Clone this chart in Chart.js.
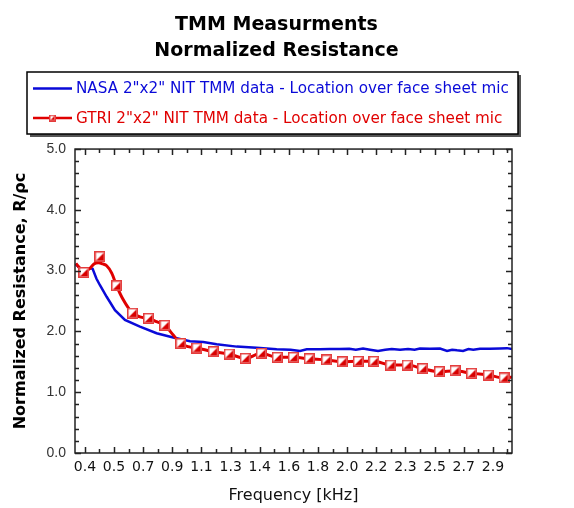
<!DOCTYPE html>
<html>
<head>
<meta charset="utf-8">
<script src="https://cdn.jsdelivr.net/npm/chart.js@4.4.1/dist/chart.umd.min.js"></script>
<style>
  html, body { margin: 0; padding: 0; background: #fff; }
</style>
</head>
<body>
<canvas id="grafico" width="574" height="508"></canvas>
<script>
// Eixo X: posições dos rótulos (kHz) e os textos exibidos
var xTickValues = [0.420, 0.598, 0.777, 0.955, 1.134, 1.313, 1.491, 1.670, 1.848, 2.027, 2.205, 2.384, 2.563, 2.741, 2.920];
var xTickLabels = ["0.4", "0.5", "0.7", "0.9", "1.1", "1.3", "1.4", "1.6", "1.8", "2.0", "2.2", "2.3", "2.5", "2.7", "2.9"];

// NASA - curva contínua
var nasaFreq = [0.362, 0.389, 0.414, 0.451, 0.467, 0.490, 0.512, 0.553, 0.604, 0.665, 0.757, 0.859, 0.961,
    1.064, 1.145, 1.227, 1.350, 1.472, 1.595, 1.680, 1.738, 1.779, 1.860, 1.920, 1.980, 2.040, 2.080,
    2.124, 2.167, 2.216, 2.260, 2.300, 2.351, 2.400, 2.440, 2.473, 2.534, 2.596, 2.639, 2.670, 2.700,
    2.737, 2.770, 2.800, 2.841, 2.900, 2.963, 3.006, 3.037];
var nasaVal = [3.11, 3.04, 3.00, 3.04, 3.03, 2.87, 2.76, 2.57, 2.35, 2.19, 2.08, 1.97, 1.90,
    1.84, 1.826, 1.79, 1.75, 1.73, 1.705, 1.70, 1.68, 1.705, 1.705, 1.71, 1.71, 1.715, 1.70,
    1.72, 1.70, 1.68, 1.70, 1.71, 1.70, 1.71, 1.70, 1.72, 1.715, 1.72, 1.68, 1.70, 1.69,
    1.68, 1.71, 1.70, 1.715, 1.715, 1.72, 1.725, 1.71];

// GTRI - linha
var gtriFreq = [0.365, 0.389, 0.414, 0.451, 0.475, 0.502, 0.530, 0.553, 0.584, 0.614, 0.655, 0.712, 0.757,
    0.810, 0.859, 0.910, 0.961, 1.008, 1.053, 1.106, 1.206, 1.304, 1.402, 1.501, 1.599, 1.697, 1.795,
    1.901, 1.997, 2.095, 2.191, 2.294, 2.395, 2.490, 2.592, 2.688, 2.790, 2.892, 2.988, 3.037];
var gtriVal = [3.12, 3.04, 2.99, 3.04, 3.11, 3.13, 3.11, 3.08, 2.96, 2.75, 2.52, 2.30, 2.24,
    2.215, 2.16, 2.10, 1.94, 1.80, 1.75, 1.727, 1.666, 1.628, 1.557, 1.64, 1.574, 1.574, 1.55,
    1.53, 1.50, 1.508, 1.508, 1.447, 1.447, 1.387, 1.337, 1.354, 1.31, 1.283, 1.234, 1.25];

// GTRI - marcadores
var gtriMarcaFreq = [0.414, 0.512, 0.614, 0.712, 0.810, 0.910, 1.008, 1.106, 1.206, 1.304, 1.402, 1.501,
    1.599, 1.697, 1.795, 1.901, 1.997, 2.095, 2.191, 2.294, 2.395, 2.490, 2.592, 2.688, 2.790, 2.892, 2.988];
var gtriMarcaVal = [2.97, 3.23, 2.75, 2.30, 2.215, 2.10, 1.80, 1.727, 1.666, 1.628, 1.557, 1.64,
    1.574, 1.574, 1.55, 1.53, 1.50, 1.508, 1.508, 1.447, 1.447, 1.387, 1.337, 1.354, 1.31, 1.283, 1.234];

var AZUL = "#0a0ad8";
var VERMELHO = "#e00000";

function juntarPontos(xs, ys) {
    return xs.map(function (x, i) { return { x: x, y: ys[i] }; });
}

// Quadrado com metade inferior direita preenchida
function criarMarcador(tam) {
    var c = document.createElement("canvas");
    c.width = tam;
    c.height = tam;
    var g = c.getContext("2d");
    g.fillStyle = "#fff";
    g.fillRect(0, 0, tam, tam);
    g.fillStyle = "#d80000";
    g.beginPath();
    g.moveTo(tam - 1.5, 1.5);
    g.lineTo(tam - 1.5, tam - 1.5);
    g.lineTo(1.5, tam - 1.5);
    g.closePath();
    g.fill();
    g.strokeStyle = "#e43c3c";
    g.lineWidth = 1.5;
    g.strokeRect(0.75, 0.75, tam - 1.5, tam - 1.5);
    return c;
}

var marcador = criarMarcador(11);
var marcadorPequeno = criarMarcador(7);

// Moldura e marcas internas dos eixos
var marcasEixos = {
    id: "marcasEixos",
    afterDatasetsDraw: function (chart) {
        var ctx = chart.ctx;
        var a = chart.chartArea;
        var x = chart.scales.x;
        var y = chart.scales.y;
        ctx.save();
        ctx.strokeStyle = "#222";
        ctx.lineWidth = 1.5;
        ctx.beginPath();
        x.ticks.forEach(function (t, i) {
            var px = Math.round(x.getPixelForValue(t.value)) + 0.5;
            var len = i % 2 === 0 ? 6 : 4;
            ctx.moveTo(px, a.bottom); ctx.lineTo(px, a.bottom - len);
            ctx.moveTo(px, a.top); ctx.lineTo(px, a.top + len);
        });
        for (var k = 0; k <= 25; k++) {
            var py = Math.round(y.getPixelForValue(k * 0.2)) + 0.5;
            var l = k % 5 === 0 ? 6 : 4;
            ctx.moveTo(a.left, py); ctx.lineTo(a.left + l, py);
            ctx.moveTo(a.right, py); ctx.lineTo(a.right - l, py);
        }
        ctx.stroke();
        ctx.strokeRect(a.left, a.top, a.right - a.left, a.bottom - a.top);
        ctx.restore();
    }
};

// Legenda em caixa com sombra
var legendaCaixa = {
    id: "legendaCaixa",
    afterDraw: function (chart) {
        var ctx = chart.ctx;
        var bx = 27, by = 72, bw = 491, bh = 62;
        ctx.save();
        ctx.fillStyle = "#555";
        ctx.fillRect(bx + 3, by + 3, bw, bh);
        ctx.fillStyle = "#fff";
        ctx.fillRect(bx, by, bw, bh);
        ctx.strokeStyle = "#000";
        ctx.lineWidth = 1.5;
        ctx.strokeRect(bx, by, bw, bh);
        ctx.font = "15.2px 'DejaVu Sans'";
        ctx.textBaseline = "middle";
        var itens = chart.data.datasets.filter(function (d) { return d.label; });
        itens.forEach(function (d, i) {
            var ly = by + 16.5 + i * 29.5;
            ctx.strokeStyle = d.borderColor;
            ctx.lineWidth = 2.5;
            ctx.beginPath();
            ctx.moveTo(33, ly);
            ctx.lineTo(72, ly);
            ctx.stroke();
            if (d.pointRadius > 0) {
                ctx.drawImage(marcadorPequeno, 49, ly - 3.5);
            }
            ctx.fillStyle = d.borderColor;
            ctx.fillText(d.label, 76, ly + 1);
        });
        ctx.restore();
    }
};

var ctx = document.getElementById("grafico");
var chart = new Chart(ctx, {
    type: "line",
    data: {
        datasets: [
            {
                label: "NASA 2\"x2\" NIT TMM data - Location over face sheet mic",
                data: juntarPontos(nasaFreq, nasaVal),
                borderColor: AZUL,
                borderWidth: 2.5,
                pointRadius: 0,
                tension: 0,
                order: 3
            },
            {
                label: "",
                data: juntarPontos(gtriFreq, gtriVal),
                borderColor: VERMELHO,
                borderWidth: 3,
                pointRadius: 0,
                cubicInterpolationMode: "monotone",
                order: 2
            },
            {
                label: "GTRI 2\"x2\" NIT TMM data - Location over face sheet mic",
                data: juntarPontos(gtriMarcaFreq, gtriMarcaVal),
                borderColor: VERMELHO,
                showLine: false,
                pointStyle: marcador,
                pointRadius: 5,
                order: 1
            }
        ]
    },
    options: {
        responsive: false,
        animation: false,
        events: [],
        layout: { padding: { left: 0, right: 21, top: 0, bottom: 0 } },
        plugins: {
            legend: { display: false },
            tooltip: { enabled: false },
            title: {
                display: true,
                text: ["TMM Measurments", "Normalized Resistance"],
                color: "#000",
                font: { family: "'DejaVu Sans'", size: 19, weight: "bold", lineHeight: 1.37 },
                padding: { top: 12, bottom: 85 }
            }
        },
        scales: {
            x: {
                type: "linear",
                min: 0.359,
                max: 3.037,
                grid: { display: false, drawTicks: false },
                border: { display: false },
                afterBuildTicks: function (escala) {
                    var marcas = [];
                    var meio = (xTickValues[1] - xTickValues[0]) / 2;
                    xTickValues.forEach(function (v) {
                        marcas.push({ value: v });
                        marcas.push({ value: v + meio });
                    });
                    escala.ticks = marcas;
                },
                ticks: {
                    autoSkip: false,
                    maxRotation: 0,
                    padding: 6,
                    color: "#111",
                    font: { family: "'DejaVu Sans'", size: 14 },
                    callback: function (valor, indice) {
                        return indice % 2 === 0 ? xTickLabels[indice / 2] : "";
                    }
                },
                title: {
                    display: true,
                    text: "Frequency [kHz]",
                    color: "#111",
                    font: { family: "'DejaVu Sans'", size: 16 },
                    padding: { top: 4, bottom: 3 }
                },
                afterFit: function (escala) { escala.height = 55; }
            },
            y: {
                min: 0,
                max: 5,
                grid: { display: false, drawTicks: false },
                border: { display: false },
                ticks: {
                    stepSize: 1,
                    padding: 9,
                    color: "#333",
                    font: { family: "'Liberation Sans'", size: 14 },
                    callback: function (v) { return v.toFixed(1); }
                },
                title: {
                    display: true,
                    text: "Normalized Resistance, R/\u03C1c",
                    color: "#000",
                    font: { family: "'DejaVu Sans'", size: 16, weight: "bold" },
                    padding: { top: 11, bottom: 0 }
                },
                afterFit: function (escala) { escala.width = 75; }
            },
            y2: {
                position: "right",
                min: 0,
                max: 5,
                grid: { display: false, drawTicks: false },
                border: { display: false },
                ticks: { display: false },
                afterFit: function (escala) { escala.width = 41; }
            }
        }
    },
    plugins: [marcasEixos, legendaCaixa]
});
</script>
</body>
</html>
